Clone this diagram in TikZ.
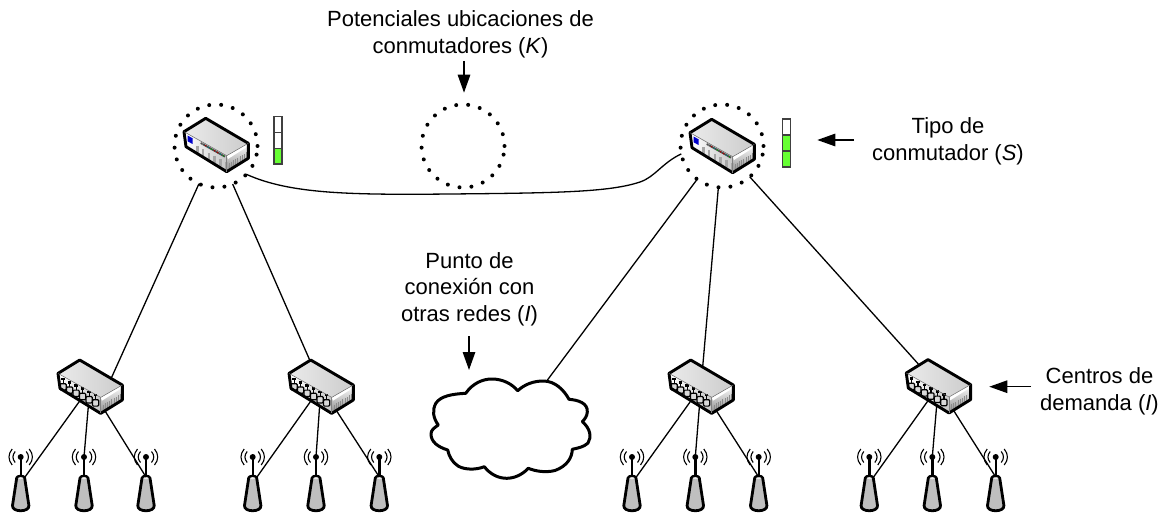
\documentclass[tikz,border=0pt]{standalone}
\usepackage{fontspec}
\setmainfont{Liberation Sans}
\usetikzlibrary{arrows.meta}
\definecolor{barg}{HTML}{66FF33}
\tikzset{
  label text/.style={font=\fontsize{22}{26.6}\selectfont, align=center, inner sep=0pt},
  link/.style={line width=1.3pt, black},
  pointer/.style={line width=1.3pt, -{Triangle[length=18pt,width=12.5pt]}},
  site/.style={circle, minimum size=83pt, inner sep=0pt, outer sep=0pt, draw, line width=4pt, line cap=round, dash pattern=on 0pt off 12pt},
  outline/.style={line width=2.9pt, line join=round},
  barcell/.style={draw=black!75, line width=1.4pt},
  switchbody/.pic={
    \shade[left color=white, right color=black!22] (-31,-13) -- (10.7,10.7) -- (10.7,26.7) -- (-30,1.7) -- cycle;
    \shade[left color=black!8, right color=black!20] (-32,-13.3) -- (-10.3,-26.7) -- (32.3,-1.7) -- (10.7,10.7) -- cycle;
    \shade[top color=white, bottom color=black!45] (10.7,10.7) -- (32.3,-1.7) -- (32.3,13.3) -- (10.7,26.7) -- cycle;
    \fill[white] (10.7,10.7) -- (32.3,-1.7) -- (32.3,1) -- (12,14) -- cycle;
    \foreach \k in {0,...,8} {
      \draw[black!45, line width=.7pt] ({13+\k*2.2},{25-\k*1.35}) -- ++(0,-7);
    }
  },
  switchline/.pic={
    \draw[outline] (-32,-13.3) -- (-10.3,-26.7) -- (32.3,-1.7) -- (32.3,13.3) -- (10.7,26.7) -- (-30,1.7) -- cycle;
    \draw[line width=.5pt, black!60] (-32,-13.3) -- (10.7,10.7) -- (32.3,-1.7);
    \draw[line width=.5pt, black!50] (10.7,10.7) -- (10.7,26.7);
  },
  bigswitch/.pic={
    \pic {switchbody};
    \foreach \k in {0,...,5} {
      \fill[black!35] ({-20+\k*5.8},{1+\k*3.3}) rectangle ++(2.6,7);
    }
    \fill[blue!80!black] (-28.5,-9.5) -- (-23.5,-6.8) -- (-23.5,-1) -- (-28.5,-3.8) -- cycle;
    \draw[black!70, line width=1.8pt] (-15.3,-2) -- (9,11.7);
    \foreach \k/\c in {0/gray,1/red!70!black,2/teal,3/green!70!black,4/red!70!black,5/red!70!black,6/teal,7/green!60!black} {
      \fill[\c] ({-13.5+\k*3},{-1+\k*1.7}) circle (.8pt);
    }
    \pic {switchline};
  },
  smallswitch/.pic={
    \pic {switchbody};
    \foreach \k in {0,...,5} {
      \draw[line width=1.2pt, fill=black!15, rounded corners=1pt] ({-30+\k*6.5},{-3+\k*3.2}) rectangle ++(6.2,6.4);
      \draw[line width=1.2pt] ({-26.9+\k*6.5},{-3+\k*3.2}) -- ++(0,-4.4);
      \fill ({-28.6+\k*6.5},{-9+\k*3.2}) rectangle ++(3.4,2.6);
    }
    \pic {switchline};
  },
  antennapic/.pic={
    \draw[line width=2.4pt] (0,0) -- (0,20);
    \fill (0,0) circle (3pt);
    \draw[line width=1.1pt] (-5.5,-5.5) .. controls (-8.5,-2) and (-8.5,2) .. (-5.5,5.5);
    \draw[line width=1.1pt] (5.5,-5.5) .. controls (8.5,-2) and (8.5,2) .. (5.5,5.5);
    \draw[line width=1.1pt] (-8.5,-8) .. controls (-12.8,-3) and (-12.8,3) .. (-8.5,8);
    \draw[line width=1.1pt] (8.5,-8) .. controls (12.8,-3) and (12.8,3) .. (8.5,8);
    \draw[line width=2.8pt, line join=round, fill=black!25] (-4,21) .. controls (-3.4,18.5) and (3.4,18.5) .. (4,21) -- (8.2,48.5) .. controls (9,55.5) and (-9,55.5) .. (-8.2,48.5) -- cycle;
    \fill[black!8] (-2.8,21.3) .. controls (-2,19.8) and (2,19.8) .. (2.8,21.3) .. controls (1,22.6) and (-1,22.6) .. (-2.8,21.3);
  }
}
\begin{document}
\begin{tikzpicture}[x=1pt,y=-1pt]
\useasboundingbox (0,0) rectangle (1165,516);
% sites
\node[site] (site1) at (216,146) {};
\node[site] (site2) at (463,146) {};
\node[site] (site3) at (722,146) {};
% hubs
\coordinate (hub1) at (90,386.7);
\coordinate (hub2) at (321,386.7);
\coordinate (hub3) at (701,386.7);
\coordinate (hub4) at (938.3,386.3);
% entries
\coordinate (in1) at (107.4,386.7);
\coordinate (in2) at (310,360.7);
\coordinate (in3) at (702.7,366.7);
\coordinate (in4) at (918.3,364);
\coordinate (incloud) at (546.7,381);
% antennas
\foreach \n/\x in {a/20.7,b/84,c/146,d/252.7,e/316,f/379.3,g/632,h/695.3,i/758.7,j/869.3,k/932.3,l/995.7}{
  \node[minimum width=8.6pt, minimum height=20pt, inner sep=0pt, outer sep=0pt] (ant\n) at (\x,467) {};
}
% core links
\draw[link] (site1) -- (in1);
\draw[link] (site1) -- (in2);
\draw[link] (site3) -- (incloud);
\draw[link] (site3) -- (in3);
\draw[link] (site3) -- (in4);
\draw[link] (site1.-43) .. controls (290,194) and (350,195) .. (450,194) .. controls (560,193) and (610,192) .. (640,182) .. controls (655,177) and (662,163) .. (site3.191);
% equipment
\foreach \n in {a,b,c,d,e,f,g,h,i,j,k,l}{
  \path (ant\n.north) pic {antennapic};
}
% access links
\foreach \h/\p/\q/\r in {hub1/a/b/c,hub2/d/e/f,hub3/g/h/i,hub4/j/k/l}{
  \draw[link] (\h) -- (ant\p.south east);
  \draw[link] (\h) -- (ant\q.north);
  \draw[link] (\h) -- (ant\r.south);
}
\path (site1) ++(0,-1) pic {bigswitch};
\path (site3) pic {bigswitch};
\foreach \h in {hub1,hub2,hub3,hub4}{ \path (\h) pic {smallswitch}; }
% cloud
\draw[line width=3pt, line join=round, fill=white] (465.7,393.3) .. controls (473,383) and (483,379) .. (491.7,379) .. controls (503,379) and (512,384) .. (517.7,390.7)
 .. controls (525,384) and (534,381) .. (543.3,381) .. controls (555,381) and (564,390) .. (569,399.3)
 .. controls (578,400) and (588,403) .. (587.3,412) .. controls (587,416) and (585,419) .. (582.3,421.7)
 .. controls (590,428) and (592,437) .. (588,443) .. controls (584,447) and (578,448) .. (572.3,449.3)
 .. controls (572,458) and (567,466) .. (555,470.5) .. controls (545,473) and (535,471) .. (528.3,468.3)
 .. controls (522,475) and (514,478.3) .. (506.7,478.3) .. controls (498,478.3) and (490,474) .. (484.3,466.7)
 .. controls (476,470) and (465,470) .. (458,466) .. controls (452,462) and (449,456) .. (447.7,450)
 .. controls (438,447) and (431,442) .. (431,434) .. controls (431,430) and (434,428) .. (438.3,425)
 .. controls (433,418) and (432,410) .. (436,403) .. controls (441,396) and (452,394) .. (465.7,393.3) -- cycle;
% level bars
\draw[barcell, fill=white] (274,116.7) rectangle (282,132.3);
\draw[barcell, fill=white] (274,132.3) rectangle (282,148.3);
\draw[barcell, fill=barg] (274,148.3) rectangle (282,164);
\draw[barcell, fill=white] (782.3,119) rectangle (790.7,135);
\draw[barcell, fill=barg] (782.3,135) rectangle (790.7,151);
\draw[barcell, fill=barg] (782.3,151) rectangle (790.7,167);
% labels
\node[label text] (lblK) at (460.5,34.2) {Potenciales ubicaciones de\\conmutadores (\textit{K})};
\node[label text] (lblS) at (948,141.5) {Tipo de\\conmutador (\textit{S})};
\node[label text] (lblNet) at (469.5,289) {Punto de\\conexión con\\otras redes (\textit{I})};
\node[label text] (lblDem) at (1099.5,391.2) {Centros de\\demanda (\textit{I})};
% pointers
\coordinate (pK0) at (464,61); \coordinate (pK1) at (464,92.7);
\coordinate (pS0) at (854,140); \coordinate (pS1) at (817.3,140);
\coordinate (pN0) at (469,336); \coordinate (pN1) at (469,370);
\coordinate (pD0) at (1031,386.7); \coordinate (pD1) at (989.3,386.7);
\draw[pointer] (pK0) -- (pK1);
\draw[pointer] (pS0) -- (pS1);
\draw[pointer] (pN0) -- (pN1);
\draw[pointer] (pD0) -- (pD1);
\end{tikzpicture}
\end{document}
